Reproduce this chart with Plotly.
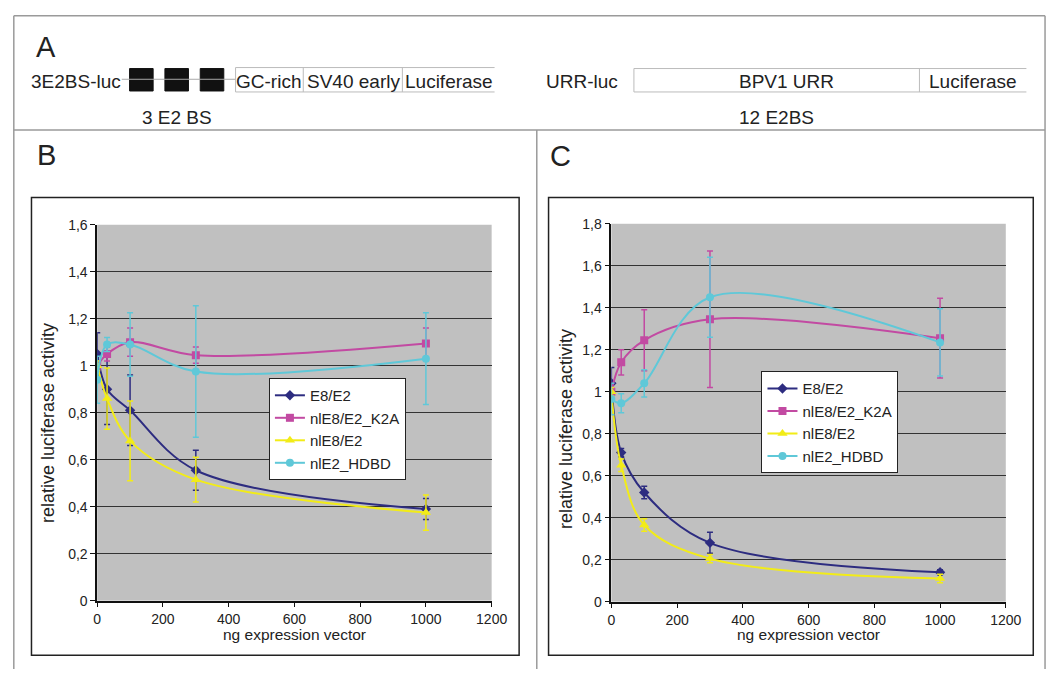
import plotly.graph_objects as go

W, H = 1063, 677

# ---------------- data ----------------
dose = [0, 30, 100, 300, 1000]
series_names = ["E8/E2", "nlE8/E2_K2A", "nlE8/E2", "nlE2_HDBD"]

# Panel B (3E2BS-luc)
b_e8 = [1.05, 0.90, 0.81, 0.555, 0.39]
b_e8_err = [0.09, 0.15, 0.15, 0.085, 0.045]
b_k2a = [1.00, 1.05, 1.10, 1.045, 1.095]
b_k2a_err = [0.02, 0.03, 0.06, 0.035, 0.065]
b_nl = [1.00, 0.86, 0.68, 0.515, 0.375]
b_nl_err = [0.02, 0.13, 0.17, 0.095, 0.075]
b_hdbd = [0.94, 1.09, 1.09, 0.975, 1.03]
b_hdbd_err = [0.10, 0.03, 0.135, 0.28, 0.195]

# Panel C (URR-luc)
c_e8 = [1.04, 0.71, 0.52, 0.28, 0.14]
c_e8_err = [0.075, 0.02, 0.03, 0.05, 0.012]
c_k2a = [1.00, 1.14, 1.245, 1.345, 1.255]
c_k2a_err = [0.02, 0.06, 0.145, 0.325, 0.19]
c_nl = [1.00, 0.65, 0.365, 0.205, 0.11]
c_nl_err = [0.02, 0.03, 0.03, 0.02, 0.02]
c_hdbd = [0.965, 0.945, 1.04, 1.45, 1.235]
c_hdbd_err = [0.075, 0.045, 0.065, 0.19, 0.16]

x_tickvals = [0, 200, 400, 600, 800, 1000, 1200]
x_ticktext = ["0", "200", "400", "600", "800", "1000", "1200"]
yb_tickvals = [0, 0.2, 0.4, 0.6, 0.8, 1.0, 1.2, 1.4, 1.6]
yb_ticktext = ["0", "0,2", "0,4", "0,6", "0,8", "1", "1,2", "1,4", "1,6"]
yc_tickvals = [0, 0.2, 0.4, 0.6, 0.8, 1.0, 1.2, 1.4, 1.6, 1.8]
yc_ticktext = ["0", "0,2", "0,4", "0,6", "0,8", "1", "1,2", "1,4", "1,6", "1,8"]

x_title = "ng expression vector"
y_title = "relative luciferase activity"

# ---------------- styles ----------------
colors = ["#2d2c80", "#c24aa2", "#f2ec17", "#5fc8d8"]
symbols = ["diamond", "square", "triangle-up", "circle"]
msizes = [8, 8, 9, 8]
FONT = "Liberation Sans, Arial, sans-serif"
TXT = "#222222"


def px(x):
    return x / W


def py(y):
    return 1 - y / H


fig = go.Figure()

panels = [
    ("x", "y", "legend", [b_e8, b_k2a, b_nl, b_hdbd], [b_e8_err, b_k2a_err, b_nl_err, b_hdbd_err], "b"),
    ("x2", "y2", "legend2", [c_e8, c_k2a, c_nl, c_hdbd], [c_e8_err, c_k2a_err, c_nl_err, c_hdbd_err], "c"),
]
for xa, ya, lg, vals, errs, tag in panels:
    for i, name in enumerate(series_names):
        fig.add_trace(go.Scatter(
            x=dose, y=vals[i], name=name, mode="lines+markers",
            xaxis=xa, yaxis=ya, legend=lg, legendgroup=f"{tag}{i}",
            line=dict(color=colors[i], width=2, shape="spline", smoothing=1.0),
            marker=dict(symbol=symbols[i], size=msizes[i], color=colors[i]),
            error_y=dict(type="data", array=errs[i], visible=True,
                         color=colors[i], thickness=1.5, width=3),
        ))

axis_common = dict(
    showline=True, linecolor="#111111", linewidth=1.5,
    ticks="outside", ticklen=5, tickcolor="#111111", tickwidth=1.2,
    zeroline=False, tickfont=dict(family=FONT, size=14, color=TXT),
)

fig.update_layout(
    width=W, height=H, autosize=False,
    margin=dict(l=0, r=0, t=0, b=0),
    paper_bgcolor="white", plot_bgcolor="#c0c0c0",
    font=dict(family=FONT, color=TXT),
    xaxis=dict(domain=[px(95), px(497)], range=[0, 1200], tickvals=x_tickvals,
               ticktext=x_ticktext, showgrid=False, anchor="y", **axis_common),
    yaxis=dict(domain=[py(607), py(222)], range=[0, 1.6], tickvals=yb_tickvals,
               ticktext=yb_ticktext, showgrid=True, gridcolor="#333333",
               gridwidth=1, anchor="x", **axis_common),
    xaxis2=dict(domain=[px(619), px(1021)], range=[0, 1200], tickvals=x_tickvals,
                ticktext=x_ticktext, showgrid=False, anchor="y2", **axis_common),
    yaxis2=dict(domain=[py(608), py(221)], range=[0, 1.8], tickvals=yc_tickvals,
                ticktext=yc_ticktext, showgrid=True, gridcolor="#333333",
                gridwidth=1, anchor="x2", **axis_common),
    legend=dict(x=px(270), y=py(379), xanchor="left", yanchor="top",
                bgcolor="white", bordercolor="#222222", borderwidth=1,
                font=dict(family=FONT, size=15, color=TXT),
                tracegroupgap=8, traceorder="normal"),
    legend2=dict(x=px(772), y=py(372), xanchor="left", yanchor="top",
                 bgcolor="white", bordercolor="#222222", borderwidth=1,
                 font=dict(family=FONT, size=15, color=TXT),
                 tracegroupgap=8, traceorder="normal"),
    showlegend=True,
)

shapes = []


def line(x0, y0, x1, y1, color="#9a9a9a", width=1.5):
    shapes.append(dict(type="line", xref="paper", yref="paper",
                       x0=px(x0), y0=py(y0), x1=px(x1), y1=py(y1),
                       line=dict(color=color, width=width)))


def rect(x0, y0, x1, y1, color="#222222", width=1.5, fill="rgba(0,0,0,0)"):
    shapes.append(dict(type="rect", xref="paper", yref="paper",
                       x0=px(x0), y0=py(y0), x1=px(x1), y1=py(y1),
                       line=dict(color=color, width=width), fillcolor=fill,
                       layer="below"))


# outer frame (gray)
line(10, 8, 1061, 8)
line(10, 8, 10, 677)
line(1061, 8, 1061, 677)
line(10, 125, 1061, 125)
line(543, 125, 543, 677)

# chart boxes (black)
rect(28, 194, 525, 663)
rect(555, 194, 1049, 663)

# panel A construct: 3E2BS-luc
line(120, 73, 236, 73, color="#aaaaaa", width=1)
for x0 in [128, 164, 200]:
    rect(x0, 62, x0 + 24, 85, color="#111111", width=1, fill="#111111")
line(236, 61, 500, 61, color="#bbbbbb", width=1)
line(236, 86, 500, 86, color="#bbbbbb", width=1)
line(236, 61, 236, 86, color="#bbbbbb", width=1)
line(305, 61, 305, 86, color="#bbbbbb", width=1)
line(406, 61, 406, 86, color="#bbbbbb", width=1)

# URR-luc
line(642, 62, 1042, 62, color="#bbbbbb", width=1)
line(642, 86, 1042, 86, color="#bbbbbb", width=1)
line(642, 62, 642, 86, color="#bbbbbb", width=1)
line(933, 62, 933, 86, color="#bbbbbb", width=1)

fig.update_layout(shapes=shapes)

ann = []


def text(t, x, y, size, xanchor="center", yanchor="middle", angle=0):
    ann.append(dict(text=t, x=px(x), y=py(y), xref="paper", yref="paper",
                    showarrow=False, xanchor=xanchor, yanchor=yanchor,
                    textangle=angle,
                    font=dict(family=FONT, size=size, color=TXT)))


text("A", 31, 40, 29, xanchor="left")
text("B", 32, 151, 29, xanchor="left")
text("C", 554, 152, 29, xanchor="left")

text("3E2BS-luc", 25, 75, 19, xanchor="left")
text("GC-rich", 270, 75, 19)
text("SV40 early", 356, 75, 19)
text("Luciferase", 454, 75, 19)
text("3 E2 BS", 176, 112, 19)

text("URR-luc", 550, 75, 19, xanchor="left")
text("BPV1 URR", 798, 75, 19)
text("Luciferase", 988, 75, 19)
text("12 E2BS", 787, 112, 19)

text(x_title, 296, 642, 15.5)
text(x_title, 820, 642, 15.5)
text(y_title, 45, 425, 18, angle=-90)
text(y_title, 573, 431, 18, angle=-90)

fig.update_layout(annotations=ann)

post = (
    "document.documentElement.style.margin='0px';"
    "document.body.style.margin='0px';"
    "document.body.style.overflow='hidden';"
)

fig.write_html(
    "out.html",
    config={"displayModeBar": False},
    post_script=post,
)
